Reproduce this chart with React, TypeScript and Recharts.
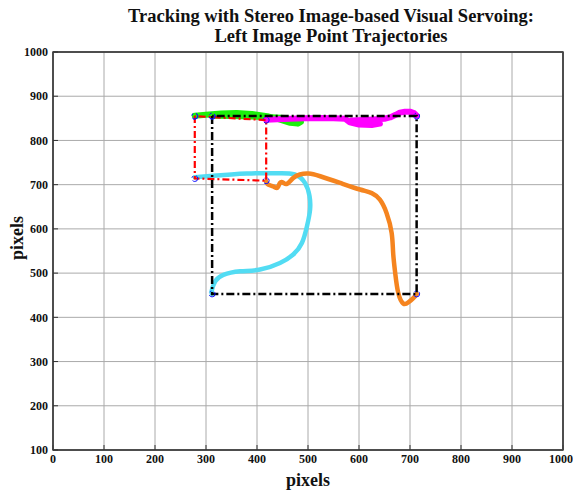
import {
  ComposedChart,
  Line,
  XAxis,
  YAxis,
  CartesianGrid,
  ReferenceArea,
  Label,
} from 'recharts';

// axis ticks
const xTicks = [0, 100, 200, 300, 400, 500, 600, 700, 800, 900, 1000];
const yTicks = [100, 200, 300, 400, 500, 600, 700, 800, 900, 1000];

// initial (red) and desired (black) image-point squares
const redSquare: [number, number][] = [
  [278, 855], [278, 714], [418, 709], [418, 846], [278, 855],
];
const blackSquare: [number, number][] = [
  [312, 855], [312, 453], [713, 453], [713, 855], [312, 855],
];

// point trajectories
const greenPath: [number, number][] = [
  [278, 856], [300, 858], [330, 861], [360, 862], [390, 860], [420, 855],
  [445, 847], [465, 840], [480, 838], [486, 842], [470, 846], [455, 851],
  [420, 853], [386, 854], [350, 855], [312, 856],
];
const magentaPath: [number, number][] = [
  [418, 847], [440, 848], [465, 849], [495, 850], [524, 851], [550, 850],
  [573, 849], [582, 841], [600, 836], [625, 835], [641, 838], [630, 843],
  [600, 844], [585, 845], [620, 847], [650, 849], [661, 852], [672, 858],
  [680, 863], [690, 865], [700, 865], [708, 862], [713, 856],
];
const cyanPath: [number, number][] = [
  [278, 717], [314, 720], [350, 723], [380, 725], [415, 726], [445, 726],
  [474, 723], [494, 704], [503, 674], [504, 643], [498, 606], [488, 568],
  [471, 542], [445, 523], [406, 508], [367, 504], [334, 496], [318, 481],
  [311, 459], [312, 453],
];
const orangePath: [number, number][] = [
  [418, 708], [422, 700], [432, 696], [440, 693], [445, 704], [452, 704],
  [459, 702], [471, 715], [484, 723], [501, 725], [524, 719], [563, 704],
  [602, 689], [625, 681], [641, 666], [654, 636], [664, 591], [667, 545],
  [671, 500], [677, 455], [687, 431], [697, 434], [707, 444], [713, 453],
];

const toPts = (arr: [number, number][]) => arr.map(([x, y]) => ({ x, y }));

const serif = '"Liberation Serif", "DejaVu Serif", serif';
const tickStyle = { fontSize: 12, fill: '#111', fontFamily: serif, fontWeight: 700 };
const circleDot = { r: 3, stroke: '#1010ff', strokeWidth: 1, fill: 'none' };

export default function App() {
  return (
    <div style={{ position: 'absolute', left: 0, top: 0, width: 573, height: 494, background: '#fff' }}>
      <div
        style={{
          position: 'absolute',
          left: 0,
          width: 662,
          top: 6,
          textAlign: 'center',
          fontFamily: serif,
          fontWeight: 700,
          fontSize: 18.5,
          lineHeight: '20px',
          color: '#111',
        }}
      >
        Tracking with Stereo Image-based Visual Servoing:
        <br />
        Left Image Point Trajectories
      </div>
      <ComposedChart
        width={573}
        height={494}
        margin={{ top: 51, right: 9, bottom: 14, left: 8 }}
        style={{ position: 'absolute', left: 0, top: 0 }}
      >
        <CartesianGrid stroke="#aaaaaa" strokeWidth={1} />
        <XAxis
          xAxisId={0}
          type="number"
          dataKey="x"
          domain={[0, 1000]}
          ticks={xTicks}
          allowDataOverflow
          height={30}
          tickSize={-5}
          tickMargin={9}
          tick={tickStyle}
          tickLine={{ stroke: '#333' }}
          axisLine={{ stroke: '#444', strokeWidth: 1.5 }}
        >
          <Label
            content={() => (
              <text x={308} y={486} textAnchor="middle" fontFamily={serif} fontWeight={700} fontSize={18} fill="#111">
                pixels
              </text>
            )}
          />
        </XAxis>
        <XAxis
          xAxisId="top"
          orientation="top"
          type="number"
          domain={[0, 1000]}
          ticks={xTicks}
          height={1}
          tickSize={-5}
          tick={() => <g />}
          tickLine={{ stroke: '#333' }}
          axisLine={{ stroke: '#444', strokeWidth: 1.5 }}
        />
        <YAxis
          yAxisId={0}
          type="number"
          domain={[100, 1000]}
          ticks={yTicks}
          allowDataOverflow
          width={45}
          tickSize={-5}
          tickMargin={10}
          tick={tickStyle}
          tickLine={{ stroke: '#333' }}
          axisLine={{ stroke: '#444', strokeWidth: 1.5 }}
        >
          <Label
            content={() => (
              <text
                x={0}
                y={0}
                transform="translate(23 238) rotate(-90)"
                textAnchor="middle"
                fontFamily={serif}
                fontWeight={700}
                fontSize={18}
                fill="#111"
              >
                pixels
              </text>
            )}
          />
        </YAxis>
        <YAxis
          yAxisId="right"
          orientation="right"
          type="number"
          domain={[100, 1000]}
          ticks={yTicks}
          width={1}
          tickSize={-5}
          tick={() => <g />}
          tickLine={{ stroke: '#333' }}
          axisLine={{ stroke: '#444', strokeWidth: 1.5 }}
        />
        <ReferenceArea x1={0} x2={1000} y1={100} y2={1000} fill="none" stroke="#444" strokeWidth={1.5} />

        <Line data={toPts(greenPath)} dataKey="y" stroke="#1cf00c" strokeWidth={6} dot={false} isAnimationActive={false} strokeLinejoin="round" strokeLinecap="round" />
        <Line data={toPts(magentaPath)} dataKey="y" stroke="#ff00ff" strokeWidth={6} dot={false} isAnimationActive={false} strokeLinejoin="round" strokeLinecap="round" />
        <Line type="natural" data={toPts(cyanPath)} dataKey="y" stroke="#52dcf3" strokeWidth={4.5} dot={false} isAnimationActive={false} strokeLinejoin="round" strokeLinecap="round" />
        <Line type="natural" data={toPts(orangePath)} dataKey="y" stroke="#f5841f" strokeWidth={4.5} dot={false} isAnimationActive={false} strokeLinejoin="round" strokeLinecap="round" />
        <Line data={toPts(redSquare)} dataKey="y" stroke="#ff0000" strokeWidth={2.2} strokeDasharray="7 3 2 3" dot={circleDot} isAnimationActive={false} />
        <Line data={toPts(blackSquare)} dataKey="y" stroke="#000" strokeWidth={2.5} strokeDasharray="8 3 2 3" dot={circleDot} isAnimationActive={false} />
      </ComposedChart>
    </div>
  );
}
